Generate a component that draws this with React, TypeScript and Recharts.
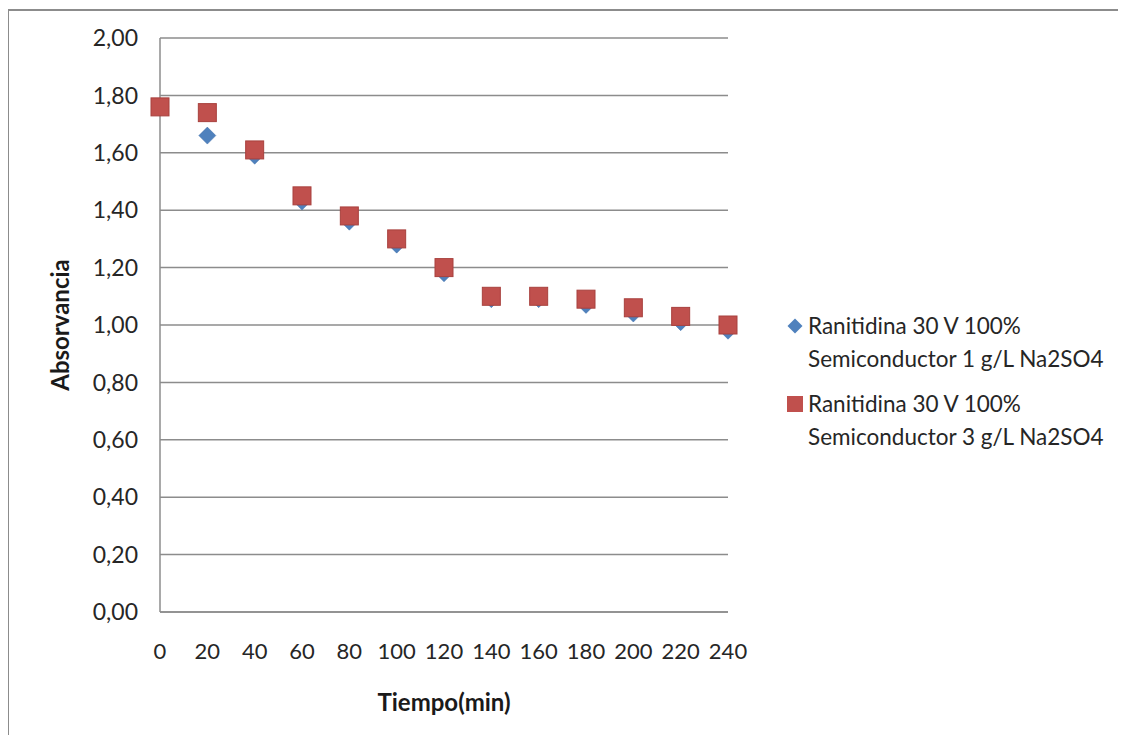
import React from 'react';
import { ScatterChart, Scatter, XAxis, YAxis, CartesianGrid, Legend } from 'recharts';

const times = [0, 20, 40, 60, 80, 100, 120, 140, 160, 180, 200, 220, 240];
const series1g = [1.76, 1.66, 1.59, 1.43, 1.36, 1.28, 1.18, 1.09, 1.09, 1.07, 1.04, 1.01, 0.98];
const series3g = [1.76, 1.74, 1.61, 1.45, 1.38, 1.30, 1.20, 1.10, 1.10, 1.09, 1.06, 1.03, 1.00];
const yTicks = [0, 0.2, 0.4, 0.6, 0.8, 1.0, 1.2, 1.4, 1.6, 1.8, 2.0];
const name1 = ['Ranitidina 30 V 100%', 'Semiconductor 1 g/L Na2SO4'];
const name3 = ['Ranitidina 30 V 100%', 'Semiconductor 3 g/L Na2SO4'];

const data1 = times.map((t, i) => ({ t, v: series1g[i] }));
const data3 = times.map((t, i) => ({ t, v: series3g[i] }));

const FONT = 'Lato, "Open Sans", sans-serif';
const BLUE = '#4F81BD';
const RED = '#C0504D';
const TEXT = '#262626';

const Diamond = (props: any) => {
  const { cx, cy } = props;
  const r = 8.5;
  return <polygon points={`${cx},${cy - r} ${cx + r},${cy} ${cx},${cy + r} ${cx - r},${cy}`} fill={BLUE} stroke="#3f6fa8" strokeWidth={0.5} />;
};

const Square = (props: any) => {
  const { cx, cy } = props;
  const s = 9;
  return <rect x={cx - s} y={cy - s} width={2 * s} height={2 * s} fill={RED} stroke="#a8413e" strokeWidth={1} />;
};

const LegendContent = () => {
  const items = [
    { lines: name1, kind: 'd' },
    { lines: name3, kind: 's' },
  ];
  return (
    <div style={{ fontFamily: FONT, fontSize: 22.5, color: TEXT, lineHeight: '33px', whiteSpace: 'nowrap', textAlign: 'left' }}>
      {items.map((it, i) => (
        <div key={i} style={{ display: 'flex', alignItems: 'flex-start', marginBottom: i === 0 ? 12 : 0 }}>
          <svg width={20} height={33} style={{ flex: 'none' }}>
            {it.kind === 'd' ? (
              <polygon points="9,9.5 16.5,17 9,24.5 1.5,17" fill={BLUE} />
            ) : (
              <rect x={1} y={9} width={16} height={16} fill={RED} />
            )}
          </svg>
          <div style={{ marginLeft: 2 }}>
            <div>{it.lines[0]}</div>
            <div>{it.lines[1]}</div>
          </div>
        </div>
      ))}
    </div>
  );
};

export default function App() {
  return (
    <div style={{ position: 'relative', width: 1110, height: 727, background: '#fff' }}>
      <div
        style={{
          position: 'absolute',
          left: -1,
          top: 1,
          width: 1119,
          height: 734,
          boxSizing: 'border-box',
          borderTop: '2px solid #8c8c8c',
          borderLeft: '2px solid #8c8c8c',
          pointerEvents: 'none',
        }}
      />
      <ScatterChart width={1110} height={727} margin={{ top: 30, right: 390, bottom: 0, left: 0 }}>
        <CartesianGrid vertical={false} stroke="#8c8c8c" strokeWidth={1.5} />
        <XAxis
          type="number"
          dataKey="t"
          domain={[0, 240]}
          ticks={times}
          interval={0}
          height={123}
          tickLine={false}
          axisLine={{ stroke: '#8c8c8c', strokeWidth: 1.5 }}
          tickMargin={25}
          tick={{ fill: TEXT, fontSize: 22, fontFamily: FONT }}
          label={{
            content: (p: any) => {
              const vb = p.viewBox;
              return (
                <text x={vb.x + vb.width / 2} y={vb.y + 99} textAnchor="middle" fontFamily={FONT} fontWeight="bold" fontSize={24} fill="#1a1a1a">
                  Tiempo(min)
                </text>
              );
            },
          }}
        />
        <YAxis
          type="number"
          dataKey="v"
          domain={[0, 2]}
          ticks={yTicks}
          interval={0}
          width={152}
          tickLine={false}
          axisLine={{ stroke: '#8c8c8c', strokeWidth: 1.5 }}
          tickMargin={16}
          tickFormatter={(v: number) => v.toFixed(2).replace('.', ',')}
          tick={{ fill: TEXT, fontSize: 23, fontFamily: FONT }}
          label={{
            content: (p: any) => {
              const vb = p.viewBox;
              const x = vb.x + 51;
              const y = vb.y + vb.height / 2;
              return (
                <text x={x} y={y} transform={`rotate(-90, ${x}, ${y})`} textAnchor="middle" dominantBaseline="central" fontFamily={FONT} fontWeight="bold" fontSize={24} fill="#1a1a1a">
                  Absorvancia
                </text>
              );
            },
          }}
        />
        <Legend
          layout="horizontal"
          verticalAlign="middle"
          align="center"
          content={<LegendContent />}
          wrapperStyle={{ position: 'absolute', left: 778, top: 301, width: 330 }}
        />
        <Scatter name={name1.join(' ')} data={data1} shape={<Diamond />} fill={BLUE} isAnimationActive={false} />
        <Scatter name={name3.join(' ')} data={data3} shape={<Square />} fill={RED} isAnimationActive={false} />
      </ScatterChart>
    </div>
  );
}
